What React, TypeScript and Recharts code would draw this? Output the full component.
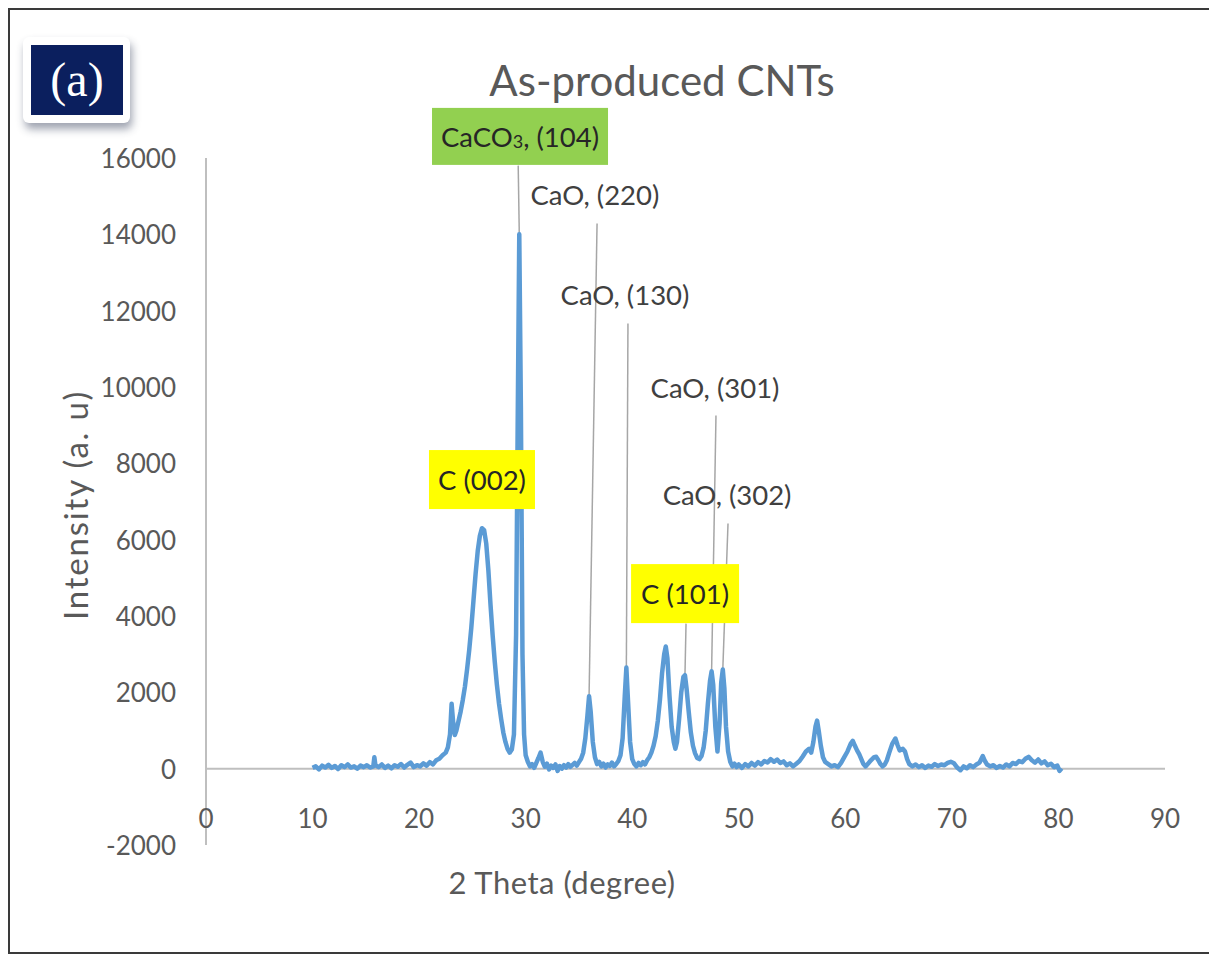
import React from "react";
import { LineChart, Line, XAxis, YAxis, ReferenceLine, ReferenceDot } from "recharts";

// XRD scan of the as-produced CNT powder (2θ in degrees, intensity in a.u.)
const twoTheta = [
  10.0, 10.3, 10.6, 10.9, 11.2, 11.5, 11.8, 12.1, 12.4, 12.7, 13.0, 13.3, 13.6, 13.9, 14.2, 14.5,
  14.8, 15.1, 15.4, 15.7, 15.8, 15.9, 16.2, 16.5, 16.8, 17.1, 17.4, 17.7, 18.0, 18.3, 18.6, 18.9,
  19.2, 19.5, 19.8, 20.1, 20.4, 20.7, 21.0, 21.3, 21.6, 21.9, 22.2, 22.5, 22.7, 22.9, 23.05, 23.2,
  23.35, 23.5, 23.7, 23.9, 24.1, 24.3, 24.5, 24.7, 24.9, 25.1, 25.3, 25.5, 25.7, 25.9, 26.1, 26.3,
  26.5, 26.7, 26.9, 27.1, 27.3, 27.5, 27.7, 27.9, 28.1, 28.3, 28.5, 28.7, 28.9, 29.1, 29.25, 29.4,
  29.55, 29.7, 29.85, 30.0, 30.2, 30.4, 30.6, 30.8, 31.0, 31.2, 31.4, 31.6, 31.8, 32.0, 32.2, 32.4,
  32.6, 32.8, 33.0, 33.2, 33.4, 33.6, 33.8, 34.0, 34.2, 34.4, 34.6, 34.8, 35.0, 35.2, 35.4, 35.6,
  35.8, 35.95, 36.1, 36.3, 36.5, 36.7, 36.9, 37.1, 37.3, 37.5, 37.7, 37.9, 38.1, 38.3, 38.5, 38.7,
  38.9, 39.1, 39.3, 39.45, 39.6, 39.8, 40.0, 40.2, 40.4, 40.6, 40.8, 41.0, 41.2, 41.4, 41.6, 41.8,
  42.0, 42.2, 42.4, 42.6, 42.8, 43.0, 43.15, 43.3, 43.5, 43.7, 43.9, 44.05, 44.2, 44.4, 44.6, 44.8,
  44.95, 45.1, 45.3, 45.5, 45.7, 45.9, 46.1, 46.3, 46.5, 46.7, 46.9, 47.1, 47.3, 47.45, 47.6, 47.8,
  48.0, 48.2, 48.35, 48.5, 48.65, 48.8, 49.0, 49.2, 49.4, 49.6, 49.8, 50.0, 50.3, 50.6, 50.9, 51.2,
  51.5, 51.8, 52.1, 52.4, 52.7, 53.0, 53.3, 53.6, 53.9, 54.2, 54.5, 54.8, 55.1, 55.4, 55.7, 56.0,
  56.3, 56.6, 56.8, 57.0, 57.2, 57.35, 57.5, 57.7, 57.9, 58.1, 58.4, 58.7, 59.0, 59.3, 59.6, 59.9,
  60.2, 60.5, 60.7, 60.9, 61.1, 61.3, 61.5, 61.7, 61.9, 62.1, 62.4, 62.7, 62.9, 63.1, 63.3, 63.5,
  63.7, 63.9, 64.1, 64.4, 64.7, 64.9, 65.1, 65.4, 65.6, 65.8, 66.0, 66.3, 66.6, 66.9, 67.2, 67.5,
  67.8, 68.1, 68.4, 68.7, 69.0, 69.3, 69.6, 69.9, 70.2, 70.5, 70.8, 71.1, 71.4, 71.7, 72.0, 72.3,
  72.6, 72.9, 73.1, 73.3, 73.6, 73.9, 74.2, 74.5, 74.8, 75.1, 75.4, 75.7, 76.0, 76.3, 76.6, 76.9,
  77.2, 77.5, 77.8, 78.1, 78.4, 78.7, 79.0, 79.3, 79.6, 79.9, 80.1, 80.3,
];

const intensity = [
  20, 60, -20, 80, 30, 100, 20, 70, -10, 90, 40, 110, 30, 60, 0, 80,
  40, 90, 30, 60, 300, 90, 40, 110, 20, 80, 10, 90, 50, 120, 30, 100,
  160, 40, 90, 60, 140, 80, 170, 110, 220, 260, 350, 420, 560, 900, 1700, 1200,
  880, 1000, 1250, 1500, 1800, 2150, 2600, 3100, 3700, 4400, 5100, 5700, 6100, 6300, 6250, 5900,
  5200, 4300, 3500, 2800, 2200, 1700, 1300, 950, 700, 520, 420, 500, 900, 3500, 9000, 14000,
  9500, 3000, 900, 350, 180, 60, 120, 20, 150, 280, 420, 180, 50, 130, -20, 80,
  20, 110, -60, 70, 0, 90, 30, 120, 50, 100, 150, 80, 170, 260, 420, 800,
  1400, 1900, 1500, 700, 300, 120, 180, 60, 130, 30, 110, 70, 160, 60, 120, 200,
  350, 800, 1900, 2650, 1800, 700, 250, 120, 60, 150, 90, 170, 110, 220, 300, 420,
  600, 850, 1250, 1800, 2500, 3000, 3200, 2900, 1900, 1100, 700, 520, 700, 1300, 2000, 2400,
  2450, 2100, 1500, 950, 600, 400, 280, 250, 330, 550, 1000, 1700, 2300, 2550, 2200, 1100,
  450, 1200, 2250, 2600, 2100, 1100, 450, 180, 60, 130, 40, 110, 20, 120, 60, 150,
  80, 170, 110, 200, 160, 250, 180, 240, 150, 190, 90, 140, 60, 130, 200, 320,
  450, 520, 420, 700, 1100, 1260, 1000, 600, 300, 180, 120, 60, 90, 40, 150, 300,
  450, 650, 730, 600, 480, 380, 250, 120, 60, 120, 220, 300, 310, 220, 120, 60,
  110, 220, 400, 650, 790, 620, 480, 520, 450, 250, 120, 60, 110, 40, 90, 20,
  80, 50, 120, 70, 110, 90, 150, 180, 140, 30, -40, 60, 10, 90, 40, 110,
  160, 330, 200, 110, 60, 90, 20, 70, 30, 110, 60, 150, 120, 200, 170, 260,
  310, 220, 160, 240, 140, 190, 90, 130, 40, 80, -60, 10,
];

const xTicks = [0, 10, 20, 30, 40, 50, 60, 70, 80, 90];
const yTicks = [-2000, 0, 2000, 4000, 6000, 8000, 10000, 12000, 14000, 16000];

const scan = twoTheta.map((t, i) => ({ t, v: intensity[i] }));
const peakAt = (t: number) => intensity[twoTheta.indexOf(t)];

const FONT = "Lato, 'Open Sans', 'Liberation Sans', sans-serif";
const GREY_TEXT = "#595959";
const AXIS_GREY = "#bfbfbf";
const LEADER_GREY = "#a6a6a6";

// Phase labels: where the tag sits, and the peak its leader line points at
const tags = [
  { key: "caco3", x: 29.47, y: 16566, w: 176, h: 57, fill: "#92d050", peak: 29.4, lineTo: [29.3, 15800] },
  { key: "c002", x: 25.9, y: 7575, w: 106, h: 59, fill: "#ffff00", text: "C (002)" },
  { key: "cao220", x: 36.5, y: 15046, text: "CaO, (220)", peak: 35.95, lineTo: [36.7, 14286] },
  { key: "cao130", x: 39.32, y: 12425, text: "CaO, (130)", peak: 39.45, lineTo: [39.6, 11664] },
  { key: "cao301", x: 47.77, y: 9987, text: "CaO, (301)", peak: 47.45, lineTo: [47.86, 9253] },
  { key: "cao302", x: 48.9, y: 7182, text: "CaO, (302)", peak: 48.5, lineTo: [48.99, 6422] },
  { key: "c101", x: 44.96, y: 4587, w: 108, h: 59, fill: "#ffff00", text: "C (101)", peak: 44.95, lineTo: [45.05, 3800] },
];

function XTick({ x, y, payload }: any) {
  return (
    <text x={x} y={y - 27} textAnchor="middle" dominantBaseline="central" fill={GREY_TEXT} fontSize={26} fontFamily={FONT}>
      {payload.value}
    </text>
  );
}

function YTick({ x, y, payload }: any) {
  return (
    <text x={x - 30} y={y} textAnchor="end" dominantBaseline="central" fill={GREY_TEXT} fontSize={26} fontFamily={FONT}>
      {payload.value}
    </text>
  );
}

function Tag({ cx, cy, tag }: any) {
  const boxed = Boolean(tag.fill);
  const color = boxed ? "#262626" : "#404040";
  return (
    <g>
      {boxed && <rect x={cx - tag.w / 2} y={cy - tag.h / 2} width={tag.w} height={tag.h} fill={tag.fill} />}
      <text x={cx} y={cy} textAnchor="middle" dominantBaseline="central" fill={color} fontSize={27.5} fontFamily={FONT}>
        {tag.key === "caco3" ? (
          <>
            <tspan>CaCO</tspan>
            <tspan fontSize={18} dy={5}>3</tspan>
            <tspan dy={-5}>, (104)</tspan>
          </>
        ) : (
          tag.text
        )}
      </text>
    </g>
  );
}

export default function App() {
  return (
    <div
      style={{
        position: "relative",
        width: 1203,
        height: 946,
        border: "2px solid #3a3a3a",
        boxSizing: "border-box",
        background: "#fff",
        fontFamily: FONT,
      }}
    >
      <LineChart
        width={1199}
        height={942}
        data={scan}
        margin={{ top: 148, right: 44, bottom: 77, left: 116 }}
        style={{ position: "absolute", left: 0, top: 0 }}
      >
        <XAxis
          dataKey="t"
          type="number"
          domain={[0, 90]}
          ticks={xTicks}
          axisLine={false}
          tickLine={false}
          tickSize={0}
          tickMargin={0}
          height={30}
          tick={<XTick />}
          interval={0}
        />
        <YAxis
          type="number"
          domain={[-2000, 16000]}
          ticks={yTicks}
          width={80}
          axisLine={{ stroke: AXIS_GREY, strokeWidth: 2 }}
          tickLine={false}
          tickSize={0}
          tickMargin={0}
          tick={<YTick />}
          interval={0}
        />
        <ReferenceLine y={0} stroke={AXIS_GREY} strokeWidth={2} />
        {tags
          .filter((g) => g.peak !== undefined)
          .map((g) => (
            <ReferenceLine
              key={`lead-${g.key}`}
              segment={[
                { x: g.peak, y: peakAt(g.peak as number) },
                { x: g.lineTo![0], y: g.lineTo![1] },
              ]}
              stroke={LEADER_GREY}
              strokeWidth={1.5}
              ifOverflow="visible"
            />
          ))}
        <Line
          type="linear"
          dataKey="v"
          stroke="#5b9bd5"
          strokeWidth={4.5}
          strokeLinejoin="round"
          dot={false}
          isAnimationActive={false}
        />
        {tags.map((g) => (
          <ReferenceDot
            key={g.key}
            x={g.x}
            y={g.y}
            r={0}
            ifOverflow="visible"
            shape={(p: any) => <Tag cx={p.cx} cy={p.cy} tag={g} />}
          />
        ))}
      </LineChart>

      <div
        style={{
          position: "absolute",
          left: 652,
          top: 70,
          transform: "translate(-50%, -50%)",
          fontSize: 42,
          color: GREY_TEXT,
          whiteSpace: "nowrap",
          lineHeight: 1,
        }}
      >
        As-produced CNTs
      </div>

      <div
        style={{
          position: "absolute",
          left: 552,
          top: 872,
          transform: "translate(-50%, -50%)",
          fontSize: 31,
          letterSpacing: 0.5,
          color: GREY_TEXT,
          whiteSpace: "nowrap",
          lineHeight: 1,
        }}
      >
        2 Theta (degree)
      </div>

      <div
        style={{
          position: "absolute",
          left: 65,
          top: 495,
          transform: "translate(-50%, -50%) rotate(-90deg)",
          fontSize: 33,
          letterSpacing: 1.8,
          color: GREY_TEXT,
          whiteSpace: "nowrap",
          lineHeight: 1,
        }}
      >
        Intensity (a. u)
      </div>

      <div
        style={{
          position: "absolute",
          left: 13,
          top: 27,
          width: 107,
          height: 86,
          background: "#fff",
          borderRadius: 6,
          boxShadow: "2px 6px 8px rgba(40,50,80,0.45)",
        }}
      >
        <div
          style={{
            position: "absolute",
            left: 8,
            top: 8,
            width: 92,
            height: 70,
            background: "#0b1f5e",
            color: "#fff",
            fontFamily: "'Liberation Serif', 'DejaVu Serif', serif",
            fontSize: 48,
            display: "flex",
            alignItems: "center",
            justifyContent: "center",
            lineHeight: 1,
          }}
        >
          (a)
        </div>
      </div>
    </div>
  );
}
